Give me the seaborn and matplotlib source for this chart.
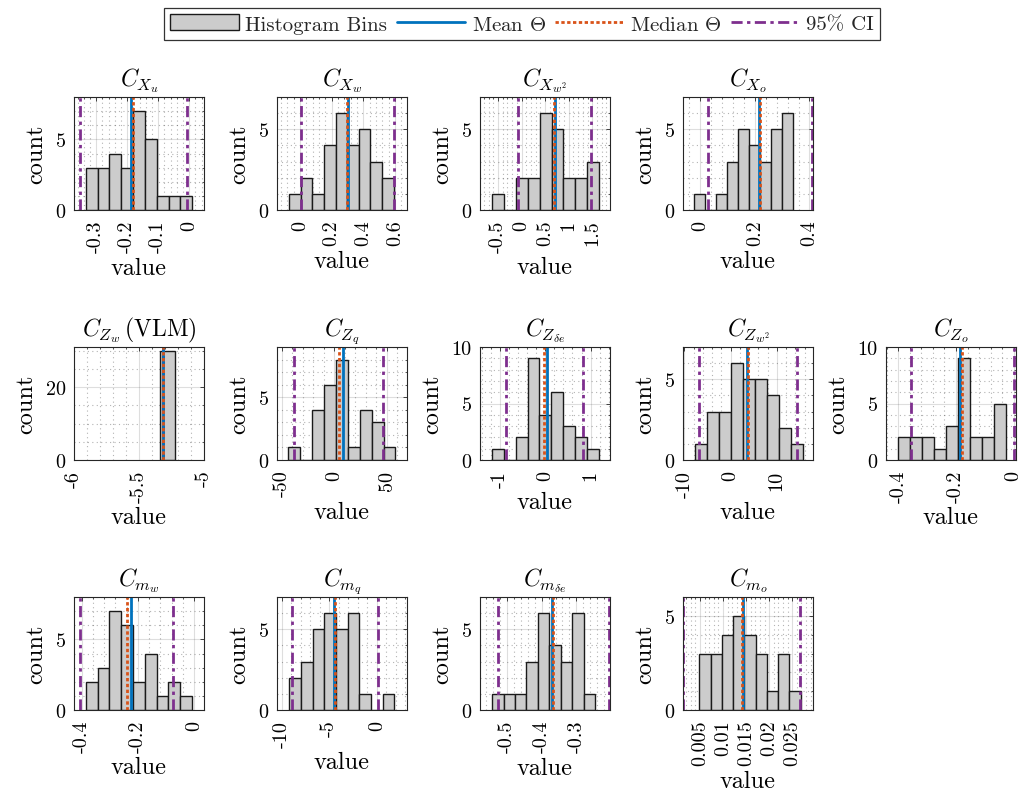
import numpy as np
import pandas as pd
import matplotlib
matplotlib.use("Agg")
import matplotlib.pyplot as plt
import seaborn as sns
from matplotlib.ticker import FixedLocator, MultipleLocator
from matplotlib.patches import Patch
from matplotlib.lines import Line2D

# ---------------- data ----------------
titles = [r"$C_{X_u}$", r"$C_{X_w}$", r"$C_{X_{w^2}}$", r"$C_{X_o}$",
          r"$C_{Z_w}\,\mathrm{(VLM)}$", r"$C_{Z_q}$", r"$C_{Z_{\delta e}}$", r"$C_{Z_{w^2}}$", r"$C_{Z_o}$",
          r"$C_{m_w}$", r"$C_{m_q}$", r"$C_{m_{\delta e}}$", r"$C_{m_o}$"]

bin_counts = [
    [3, 3, 4, 3, 7, 5, 1, 1, 1],
    [1, 2, 1, 4, 6, 4, 5, 3, 2],
    [1, 0, 2, 2, 6, 5, 2, 2, 3],
    [1, 0, 1, 3, 5, 4, 3, 5, 6],
    [30],
    [1, 0, 4, 6, 8, 1, 4, 3, 1],
    [1, 0, 2, 9, 4, 6, 3, 2, 1],
    [1, 3, 3, 6, 5, 5, 4, 2, 1],
    [2, 2, 2, 1, 3, 9, 2, 2, 5],
    [2, 3, 7, 6, 2, 4, 1, 2, 1],
    [2, 3, 5, 6, 5, 6, 1, 0, 1],
    [1, 1, 1, 3, 6, 4, 3, 6, 1],
    [3, 3, 4, 5, 4, 3, 1, 3, 1],
]
bin_start = [-0.334, -0.069, -0.62, -0.024, -5.335, -43.6, -1.185, -7.75, -0.400,
             -0.3856, -9.20, -0.5429, 0.00486]
bin_width = [0.0382, 0.0732, 0.251, 0.0404, 0.109, 11.34, 0.264, 2.59, 0.0415,
             0.042, 1.226, 0.033, 0.00244]
mean_theta = [-0.189, 0.300, 0.71, 0.217, -5.319, 8.6, 0.037, 3.62, -0.187,
              -0.226, -4.48, -0.3695, 0.01429]
median_theta = [-0.180, 0.298, 0.68, 0.219, -5.319, 4.8, -0.03, 3.84, -0.178,
                -0.240, -4.375, -0.3667, 0.01407]
ci_low = [-0.352, 0.006, -0.069, 0.030, -5.319, -37.9, -0.867, -6.81, -0.357,
          -0.406, -8.89, -0.5267, 0.0013]
ci_high = [-0.0065, 0.594, 1.479, 0.410, -5.319, 46.8, 0.83, 14.35, 0.001,
           -0.0757, 0.14, -0.2048, 0.02664]
x_limits = [(-0.372, 0.048), (-0.146, 0.675), (-0.882, 1.875), (-0.063, 0.413),
            (-6.0, -5.0), (-54.5, 69.5), (-1.444, 1.43), (-10.29, 17.83), (-0.443, 0.0083),
            (-0.4276, 0.0348), (-10.49, 3.16), (-0.578, -0.2029), (0.0013, 0.0295)]
x_ticks = [[-0.3, -0.2, -0.1, 0], [0, 0.2, 0.4, 0.6], [-0.5, 0, 0.5, 1, 1.5], [0, 0.2, 0.4],
           [-6, -5.5, -5], [-50, 0, 50], [-1, 0, 1], [-10, 0, 10], [-0.4, -0.2, 0],
           [-0.4, -0.2, 0], [-10, -5, 0], [-0.5, -0.4, -0.3], [0.005, 0.01, 0.015, 0.02, 0.025]]
x_tick_labels = [["-0.3", "-0.2", "-0.1", "0"], ["0", "0.2", "0.4", "0.6"],
                 ["-0.5", "0", "0.5", "1", "1.5"], ["0", "0.2", "0.4"],
                 ["-6", "-5.5", "-5"], ["-50", "0", "50"], ["-1", "0", "1"], ["-10", "0", "10"],
                 ["-0.4", "-0.2", "0"], ["-0.4", "-0.2", "0"], ["-10", "-5", "0"],
                 ["-0.5", "-0.4", "-0.3"], ["0.005", "0.01", "0.015", "0.02", "0.025"]]
y_step = [5, 5, 5, 5, 20, 5, 5, 5, 5, 5, 5, 5, 5]
legend_labels = ["Histogram Bins", r"Mean $\Theta$", r"Median $\Theta$", "95% CI"]

# ---------------- layout (pixels) ----------------
W, H = 1021, 804
col_left = [74, 277, 480, 683, 886]
row_top = [98, 348, 598]
ax_w, ax_h = 130, 113
grid_pos = [(0, 0), (0, 1), (0, 2), (0, 3),
            (1, 0), (1, 1), (1, 2), (1, 3), (1, 4),
            (2, 0), (2, 1), (2, 2), (2, 3)]

BAR = "#cccccc"
EDGE = "#1a1a1a"
BLUE = "#0072BD"
ORANGE = "#D95319"
PURPLE = "#7E2F8E"
AXC = "#262626"
CI_LS = (0, (4, 1.6, 1.2, 1.6))
MED_LS = (0, (1.2, 0.9))

sns.set_theme(style="white")
plt.rcParams["font.family"] = ["cmr10", "DejaVu Serif"]
plt.rcParams["mathtext.fontset"] = "cm"
plt.rcParams["axes.unicode_minus"] = False
plt.rcParams["axes.formatter.use_mathtext"] = True

fig = plt.figure(figsize=(W / 100, H / 100), dpi=100)
fig.patch.set_facecolor("white")

for i in range(len(titles)):
    r, c = grid_pos[i]
    left = col_left[c]
    top = row_top[r]
    ax = fig.add_axes([left / W, 1 - (top + ax_h) / H, ax_w / W, ax_h / H])
    counts = [float(v) for v in bin_counts[i]]
    edges = [float(bin_start[i] + bin_width[i] * k) for k in range(len(counts) + 1)]
    centers = [(edges[k] + edges[k + 1]) / 2 for k in range(len(counts))]
    df = pd.DataFrame({"value": centers, "count": counts})
    sns.histplot(data=df, x="value", weights="count", bins=edges, ax=ax,
                 color=BAR, edgecolor=EDGE, linewidth=1.0, alpha=1.0, zorder=2)
    ax.axvline(ci_low[i], color=PURPLE, lw=2.0, ls=CI_LS, zorder=3)
    ax.axvline(ci_high[i], color=PURPLE, lw=2.0, ls=CI_LS, zorder=3)
    ax.axvline(mean_theta[i], color=BLUE, lw=2.0, zorder=4)
    ax.axvline(median_theta[i], color=ORANGE, lw=2.0, ls=MED_LS, zorder=5)

    ax.set_xlim(*x_limits[i])
    ax.set_ylim(0, max(counts) + 1)
    ax.xaxis.set_major_locator(FixedLocator(x_ticks[i]))
    ax.set_xticklabels(x_tick_labels[i], rotation=90)
    xs = x_ticks[i][1] - x_ticks[i][0]
    ax.xaxis.set_minor_locator(MultipleLocator(xs / 5))
    yt = list(range(0, int(max(counts) + 1) + 1, y_step[i]))
    ax.yaxis.set_major_locator(FixedLocator(yt))
    ax.set_yticklabels([str(v) for v in yt])
    ax.yaxis.set_minor_locator(MultipleLocator(y_step[i] / (4 if y_step[i] == 20 else 5)))

    ax.set_axisbelow(True)
    ax.grid(True, which="major", color=AXC, alpha=0.15, lw=0.8)
    ax.grid(True, which="minor", color=AXC, alpha=0.35, lw=0.8, ls=(0, (1, 3)))
    for s in ax.spines.values():
        s.set_color(AXC)
        s.set_linewidth(0.8)
        s.set_zorder(6)
    ax.tick_params(axis="both", which="major", direction="in", length=3, width=0.6,
                   top=True, right=True, labelsize=14.5, colors=AXC)
    ax.tick_params(axis="x", which="major", pad=7)
    ax.tick_params(axis="y", which="major", pad=6)
    ax.tick_params(axis="both", which="minor", direction="in", length=1.5, width=0.5,
                   top=True, right=True, colors=AXC)
    for lab in ax.get_xticklabels() + ax.get_yticklabels():
        lab.set_color("black")
    ax.set_xlabel("value", fontsize=17.5, labelpad=3, color="black")
    ax.set_ylabel("count", fontsize=17.5, labelpad=6, color="black")
    ax.set_title(titles[i], fontsize=17, pad=8.5, color="black")

handles = [Patch(facecolor=BAR, edgecolor=EDGE, linewidth=1.0),
           Line2D([0], [0], color=BLUE, lw=2.0),
           Line2D([0], [0], color=ORANGE, lw=2.0, ls=MED_LS),
           Line2D([0], [0], color=PURPLE, lw=2.0, ls=CI_LS)]
leg = fig.legend(handles, legend_labels, loc="center", bbox_to_anchor=(522 / W, 1 - 25 / H),
                 ncol=4, frameon=True, fancybox=False, fontsize=15, handlelength=3.3,
                 handleheight=0.8, handletextpad=0.3, columnspacing=0.45, borderpad=0.3,
                 borderaxespad=0.0)
leg.get_frame().set_edgecolor("black")
leg.get_frame().set_linewidth(0.9)

fig.savefig("out.png", dpi=100, facecolor="white")
